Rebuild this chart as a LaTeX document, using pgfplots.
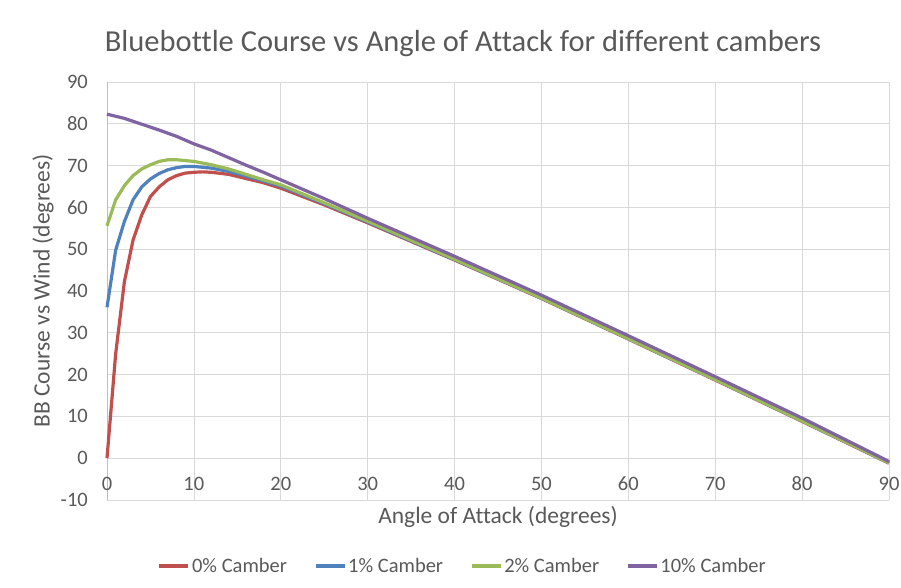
\documentclass[border=0pt]{standalone}
\usepackage{fontspec}
\setmainfont{Carlito}[Ligatures={NoCommon}]
\usepackage{pgfplots}
\pgfplotsset{compat=1.18}
\definecolor{txt}{RGB}{89,89,89}
\definecolor{gridc}{RGB}{217,217,217}
\definecolor{axc}{RGB}{191,191,191}
\definecolor{cred}{RGB}{192,80,77}
\definecolor{cblue}{RGB}{79,129,189}
\definecolor{cgreen}{RGB}{155,187,89}
\definecolor{cpurple}{RGB}{128,100,162}
\begin{document}
\begin{tikzpicture}
\path[use as bounding box] (-107bp,-88bp) rectangle (794bp,500bp);
\begin{axis}[
  at={(0,0)}, anchor=south west,
  scale only axis, width=782bp, height=418bp,
  xmin=0, xmax=90, ymin=-10, ymax=90,
  xtick={0,10,...,90}, ytick={-10,0,...,90},
  axis x line*=bottom, axis y line*=left,
  x axis line style={draw=gridc, line width=0.75bp},
  y axis line style={draw=axc, line width=0.75bp},
  major tick length=0pt,
  grid=major, major grid style={draw=gridc, line width=0.75bp},
  /pgf/number format/assume math mode=true,
  ticklabel style={font=\fontsize{20.5bp}{24bp}\selectfont, text=txt},
  xticklabel style={anchor=center, yshift=16bp},
  yticklabel style={anchor=east, inner sep=0pt, xshift=-19bp},
  xlabel={Angle of Attack (degrees)},
  ylabel={BB Course vs Wind (degrees)},
  label style={font=\fontsize{23.5bp}{28bp}\selectfont, text=txt},
  xlabel style={at={([yshift=-17bp]axis description cs:0.5,0)}, anchor=center},
  ylabel style={at={([xshift=-64bp]axis description cs:0,0.5)}, anchor=center},
  legend columns=4,
  legend style={at={([yshift=-66bp]axis description cs:0.455,0)}, anchor=center,
    draw=none, fill=none, font=\fontsize{20.5bp}{24bp}\selectfont, text=txt,
    /tikz/every even column/.append style={column sep=25bp},
    nodes={inner sep=2bp}},
  legend image code/.code={\draw[#1] (0bp,0bp) -- (29bp,0bp);},
  every axis plot/.append style={line width=3.2bp, line join=round},
  clip=false,
]
\addplot[cred] coordinates {(0,0) (1,25) (2,42.2) (3,52.2) (4,58.2) (5,62.6) (6,64.9) (7,66.6) (8,67.6) (9,68.2) (10,68.4) (11,68.5) (12,68.4) (14,67.9) (16,66.9) (18,65.9) (20,64.6) (25,60.6) (30,56.3) (40,47.4) (50,38.2) (60,28.5) (70,18.7) (80,8.8) (90,-1.2)};
\addlegendentry{0\% Camber}
\addplot[cblue] coordinates {(0,36.1) (1,49.8) (2,56.6) (3,61.8) (4,64.9) (5,66.8) (6,68.1) (7,69) (8,69.5) (9,69.8) (10,69.8) (12,69.4) (14,68.6) (16,67.5) (18,66.3) (20,65.1) (25,60.9) (30,56.5) (40,47.5) (50,38.3) (60,28.6) (70,18.8) (80,8.9) (90,-1.1)};
\addlegendentry{1\% Camber}
\addplot[cgreen] coordinates {(0,55.6) (1,61.8) (2,65.2) (3,67.6) (4,69.2) (5,70.2) (6,71) (7,71.4) (8,71.4) (9,71.2) (10,71) (12,70.2) (14,69.2) (16,67.9) (18,66.6) (20,65.4) (25,61.1) (30,56.7) (40,47.6) (50,38.3) (60,28.6) (70,18.8) (80,8.9) (90,-1.1)};
\addlegendentry{2\% Camber}
\addplot[cpurple] coordinates {(0,82.3) (2,81.3) (4,79.9) (6,78.5) (8,77) (10,75.2) (12,73.7) (14,71.9) (16,70.1) (18,68.4) (20,66.6) (25,62.1) (30,57.4) (40,48.3) (50,39) (60,29.3) (70,19.5) (80,9.6) (90,-0.8)};
\addlegendentry{10\% Camber}
\end{axis}
\node[font=\fontsize{30.5bp}{36bp}\selectfont, text=txt] at (356bp,456bp) {Bluebottle Course vs Angle of Attack for different cambers};
\end{tikzpicture}
\end{document}
